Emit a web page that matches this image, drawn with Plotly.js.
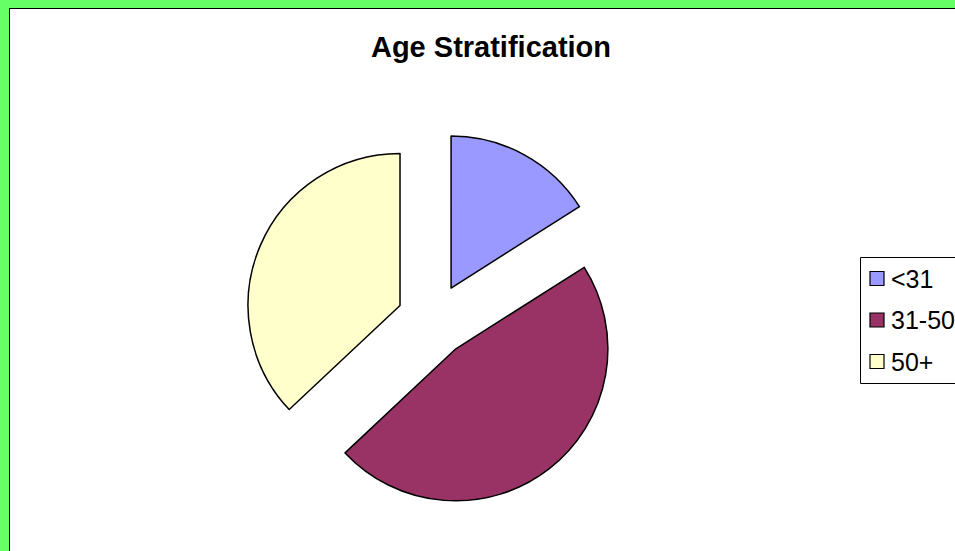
<!DOCTYPE html>
<html>
<head>
<meta charset="utf-8">
<script src="https://cdn.plot.ly/plotly-3.0.1.min.js"></script>
<style>
  html, body { margin: 0; padding: 0; background: #ffffff; }
  #chart { width: 955px; height: 551px; }
</style>
</head>
<body>
<div id="chart"></div>
<script>
// ---- data ----
const categories = ["<31", "31-50", "50+"];
const shares = [16, 47, 37];
const sliceColors = ["#9999FF", "#993366", "#FFFFCC"];
const chartTitle = "Age Stratification";

const W = 955, H = 551;

const trace = {
  type: "pie",
  labels: categories,
  values: shares,
  sort: false,
  direction: "clockwise",
  rotation: 0,
  pull: categories.map(() => 0.24),
  marker: { colors: sliceColors, line: { color: "#000000", width: 1.5 } },
  textinfo: "none",
  hoverinfo: "label+percent",
  showlegend: false,
  domain: { x: [245 / W, 622 / W], y: [1 - 508.5 / H, 1 - 131.5 / H] }
};

// custom legend built from the arrays
const shapes = [
  // green frame (left, top)
  { type: "rect", xref: "paper", yref: "paper", x0: 0, x1: 9 / W, y0: 0, y1: 1,
    fillcolor: "#66FF66", line: { width: 0 }, layer: "above" },
  { type: "rect", xref: "paper", yref: "paper", x0: 0, x1: 1, y0: 1 - 8 / H, y1: 1,
    fillcolor: "#66FF66", line: { width: 0 }, layer: "above" },
  { type: "line", xref: "paper", yref: "paper", x0: 9.5 / W, x1: 9.5 / W, y0: 0, y1: 1 - 8 / H,
    line: { color: "#000000", width: 1 } },
  { type: "line", xref: "paper", yref: "paper", x0: 9 / W, x1: 1, y0: 1 - 8.5 / H, y1: 1 - 8.5 / H,
    line: { color: "#000000", width: 1 } },
  // legend box
  { type: "rect", xref: "paper", yref: "paper", x0: 860.5 / W, x1: 970 / W,
    y0: 1 - 383.5 / H, y1: 1 - 257.5 / H,
    fillcolor: "#ffffff", line: { color: "#000000", width: 1 } }
];
const annotations = [];
const legendY0 = 278.5, legendStep = 41.5;
categories.forEach((c, i) => {
  const cy = legendY0 + i * legendStep;
  shapes.push({ type: "rect", xref: "paper", yref: "paper",
    x0: 870 / W, x1: 884 / W, y0: 1 - (cy + 7) / H, y1: 1 - (cy - 7) / H,
    fillcolor: sliceColors[i], line: { color: "#000000", width: 1.2 } });
  annotations.push({ xref: "paper", yref: "paper", x: 889 / W, y: 1 - cy / H,
    xanchor: "left", yanchor: "middle", showarrow: false, text: c,
    font: { family: "Liberation Sans, Arial, sans-serif", size: 25, color: "#000000" } });
});

const layout = {
  width: W, height: H,
  margin: { l: 0, r: 0, t: 0, b: 0 },
  paper_bgcolor: "#ffffff",
  title: {
    text: "<b>" + chartTitle + "</b>",
    x: 491 / W, xanchor: "center",
    y: 1 - 47 / H, yanchor: "middle",
    font: { family: "Liberation Sans, Arial, sans-serif", size: 29, color: "#000000" }
  },
  shapes: shapes,
  annotations: annotations,
  showlegend: false
};

Plotly.newPlot("chart", [trace], layout, { displayModeBar: false, staticPlot: true });
</script>
</body>
</html>
